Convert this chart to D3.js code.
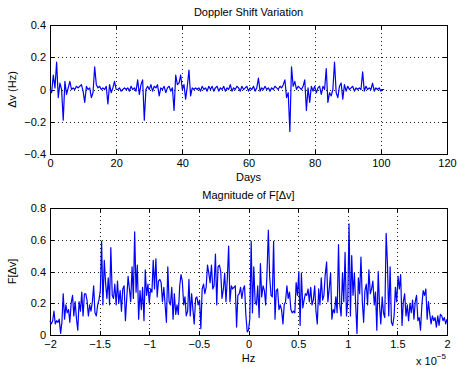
<!DOCTYPE html>
<html>
<head>
<meta charset="utf-8">
<script src="https://cdn.jsdelivr.net/npm/d3@7"></script>
<style>
  body { margin: 0; background: #fff; }
  svg { display: block; font-family: 'Liberation Sans', Arial, sans-serif; }
</style>
</head>
<body>
<div id="chart"></div>
<script>
// Doppler shift (Hz) sampled every half day
const days = [
  0, 0.5, 1, 1.5, 2, 2.5, 3, 3.5, 4, 4.5, 5, 5.5, 6, 6.5, 7, 7.5, 8, 8.5, 9, 9.5,
  10, 10.5, 11, 11.5, 12, 12.5, 13, 13.5, 14, 14.5, 15, 15.5, 16, 16.5, 17, 17.5, 18, 18.5, 19, 19.5,
  20, 20.5, 21, 21.5, 22, 22.5, 23, 23.5, 24, 24.5, 25, 25.5, 26, 26.5, 27, 27.5, 28, 28.5, 29, 29.5,
  30, 30.5, 31, 31.5, 32, 32.5, 33, 33.5, 34, 34.5, 35, 35.5, 36, 36.5, 37, 37.5, 38, 38.5, 39, 39.5,
  40, 40.5, 41, 41.5, 42, 42.5, 43, 43.5, 44, 44.5, 45, 45.5, 46, 46.5, 47, 47.5, 48, 48.5, 49, 49.5,
  50, 50.5, 51, 51.5, 52, 52.5, 53, 53.5, 54, 54.5, 55, 55.5, 56, 56.5, 57, 57.5, 58, 58.5, 59, 59.5,
  60, 60.5, 61, 61.5, 62, 62.5, 63, 63.5, 64, 64.5, 65, 65.5, 66, 66.5, 67, 67.5, 68, 68.5, 69, 69.5,
  70, 70.5, 71, 71.5, 72, 72.5, 73, 73.5, 74, 74.5, 75, 75.5, 76, 76.5, 77, 77.5, 78, 78.5, 79, 79.5,
  80, 80.5, 81, 81.5, 82, 82.5, 83, 83.5, 84, 84.5, 85, 85.5, 86, 86.5, 87, 87.5, 88, 88.5, 89, 89.5,
  90, 90.5, 91, 91.5, 92, 92.5, 93, 93.5, 94, 94.5, 95, 95.5, 96, 96.5, 97, 97.5, 98, 98.5, 99, 99.5,
  100, 100.5, 101
];
const dopplerShift = [
  0.00, -0.02, 0.09, 0.01, 0.17, -0.05, 0.04, 0.00, -0.19, 0.05,
  -0.03, 0.01, 0.05, 0.00, 0.01, 0.00, 0.02, 0.01, 0.02, 0.03,
  -0.01, -0.08, 0.02, 0.00, 0.01, -0.05, -0.02, 0.14, 0.03, 0.01,
  0.02, 0.00, 0.01, 0.00, 0.02, -0.09, 0.03, -0.02, 0.01, 0.05,
  0.00, 0.00, 0.01, -0.01, 0.00, 0.01, 0.00, 0.01, -0.01, 0.02,
  0.00, 0.01, -0.01, 0.06, -0.03, 0.03, 0.06, -0.19, 0.00, 0.02,
  0.00, 0.03, -0.01, 0.02, 0.01, 0.03, -0.04, 0.01, 0.00, 0.02,
  -0.02, 0.01, 0.02, -0.01, 0.01, -0.13, 0.09, 0.03, 0.04, 0.09,
  0.00, 0.03, -0.06, 0.02, 0.12, -0.04, 0.01, 0.00, 0.01, 0.00,
  0.01, -0.01, 0.02, 0.00, 0.01, -0.01, 0.02, 0.00, 0.02, -0.01,
  0.01, 0.02, -0.01, 0.01, 0.00, 0.02, -0.01, 0.01, 0.00, 0.03,
  -0.01, 0.01, 0.00, 0.02, 0.01, -0.01, 0.02, 0.00, 0.01, 0.02,
  -0.01, 0.01, 0.00, 0.02, -0.01, 0.01, 0.07, -0.01, 0.01, 0.00,
  0.02, 0.00, 0.01, -0.01, 0.01, 0.00, 0.02, 0.01, 0.00, 0.02,
  0.01, 0.03, 0.06, -0.05, -0.02, -0.26, 0.14, 0.02, 0.05, 0.00,
  0.02, 0.01, 0.00, 0.02, 0.06, -0.13, 0.01, -0.08, 0.02, -0.01,
  0.02, -0.02, 0.01, 0.02, -0.03, 0.02, 0.00, 0.13, -0.08, -0.02,
  -0.04, 0.00, 0.17, -0.02, -0.05, 0.02, 0.04, -0.06, 0.03, -0.01,
  0.02, 0.00, 0.01, 0.02, -0.01, 0.01, 0.00, 0.01, 0.00, 0.11,
  -0.01, 0.02, 0.00, 0.01, 0.00, 0.04, -0.01, 0.01, 0.00, 0.01,
  -0.01, 0.00, 0.00
];

// spectrum, frequency in units of 1e-5 Hz
const freqE5 = [
  -2, -1.987, -1.973, -1.96, -1.947, -1.933, -1.92, -1.907, -1.893, -1.88,
  -1.867, -1.853, -1.84, -1.827, -1.813, -1.8, -1.787, -1.773, -1.76, -1.747,
  -1.733, -1.72, -1.707, -1.693, -1.68, -1.667, -1.653, -1.64, -1.627, -1.613,
  -1.6, -1.587, -1.573, -1.56, -1.547, -1.533, -1.52, -1.507, -1.493, -1.48,
  -1.467, -1.453, -1.44, -1.427, -1.413, -1.4, -1.387, -1.373, -1.36, -1.347,
  -1.333, -1.32, -1.307, -1.293, -1.28, -1.267, -1.253, -1.24, -1.227, -1.213,
  -1.2, -1.187, -1.173, -1.16, -1.147, -1.133, -1.12, -1.107, -1.093, -1.08,
  -1.067, -1.053, -1.04, -1.027, -1.013,
  -1, -0.987, -0.973, -0.96, -0.947, -0.933, -0.92, -0.907, -0.893, -0.88,
  -0.867, -0.853, -0.84, -0.827, -0.813, -0.8, -0.787, -0.773, -0.76, -0.747,
  -0.733, -0.72, -0.707, -0.693, -0.68, -0.667, -0.653, -0.64, -0.627, -0.613,
  -0.6, -0.587, -0.573, -0.56, -0.547, -0.533, -0.52, -0.507, -0.493, -0.48,
  -0.467, -0.453, -0.44, -0.427, -0.413, -0.4, -0.387, -0.373, -0.36, -0.347,
  -0.333, -0.32, -0.307, -0.293, -0.28, -0.267, -0.253, -0.24, -0.227, -0.213,
  -0.2, -0.187, -0.173, -0.16, -0.147, -0.133, -0.12, -0.107, -0.093, -0.08,
  -0.067, -0.053, -0.04, -0.027, -0.013,
  0, 0.013, 0.027, 0.04, 0.053, 0.067, 0.08, 0.093, 0.107, 0.12,
  0.133, 0.147, 0.16, 0.173, 0.187, 0.2, 0.213, 0.227, 0.24, 0.253,
  0.267, 0.28, 0.293, 0.307, 0.32, 0.333, 0.347, 0.36, 0.373, 0.387,
  0.4, 0.413, 0.427, 0.44, 0.453, 0.467, 0.48, 0.493, 0.507, 0.52,
  0.533, 0.547, 0.56, 0.573, 0.587, 0.6, 0.613, 0.627, 0.64, 0.653,
  0.667, 0.68, 0.693, 0.707, 0.72, 0.733, 0.747, 0.76, 0.773, 0.787,
  0.8, 0.813, 0.827, 0.84, 0.853, 0.867, 0.88, 0.893, 0.907, 0.92,
  0.933, 0.947, 0.96, 0.973, 0.987,
  1, 1.013, 1.027, 1.04, 1.053, 1.067, 1.08, 1.093, 1.107, 1.12,
  1.133, 1.147, 1.16, 1.173, 1.187, 1.2, 1.213, 1.227, 1.24, 1.253,
  1.267, 1.28, 1.293, 1.307, 1.32, 1.333, 1.347, 1.36, 1.373, 1.387,
  1.4, 1.413, 1.427, 1.44, 1.453, 1.467, 1.48, 1.493, 1.507, 1.52,
  1.533, 1.547, 1.56, 1.573, 1.587, 1.6, 1.613, 1.627, 1.64, 1.653,
  1.667, 1.68, 1.693, 1.707, 1.72, 1.733, 1.747, 1.76, 1.773, 1.787,
  1.8, 1.813, 1.827, 1.84, 1.853, 1.867, 1.88, 1.893, 1.907, 1.92,
  1.933, 1.947, 1.96, 1.973, 1.987, 2
];
const magnitude = [
  0.09, 0.07, 0.09, 0.15, 0.07, 0.09, 0.08, 0.10, 0.01, 0.08,
  0.26, 0.10, 0.19, 0.14, 0.16, 0.08, 0.20, 0.25, 0.12, 0.21,
  0.10, 0.03, 0.21, 0.15, 0.27, 0.12, 0.26, 0.26, 0.22, 0.12,
  0.19, 0.15, 0.21, 0.31, 0.14, 0.12, 0.19, 0.22, 0.28, 0.59,
  0.19, 0.47, 0.33, 0.23, 0.36, 0.19, 0.55, 0.25, 0.23, 0.32,
  0.19, 0.34, 0.20, 0.28, 0.15, 0.29, 0.31, 0.09, 0.23, 0.37,
  0.29, 0.21, 0.43, 0.23, 0.65, 0.27, 0.44, 0.10, 0.28, 0.16,
  0.30, 0.09, 0.41, 0.25, 0.32,
  0.20, 0.29, 0.27, 0.47, 0.29, 0.48, 0.24, 0.34, 0.35, 0.33,
  0.21, 0.30, 0.19, 0.08, 0.43, 0.21, 0.19, 0.30, 0.10, 0.26,
  0.13, 0.19, 0.13, 0.31, 0.38, 0.34, 0.19, 0.24, 0.12, 0.15,
  0.35, 0.12, 0.26, 0.16, 0.07, 0.23, 0.24, 0.19, 0.22, 0.04,
  0.29, 0.32, 0.26, 0.30, 0.44, 0.39, 0.33, 0.44, 0.29, 0.31,
  0.51, 0.19, 0.43, 0.44, 0.40, 0.23, 0.29, 0.39, 0.21, 0.36,
  0.56, 0.21, 0.31, 0.29, 0.30, 0.31, 0.05, 0.25, 0.26, 0.30,
  0.23, 0.29, 0.31, 0.13, 0.02,
  0.03, 0.10, 0.59, 0.14, 0.43, 0.21, 0.19, 0.31, 0.11, 0.45,
  0.24, 0.31, 0.28, 0.19, 0.40, 0.66, 0.37, 0.25, 0.24, 0.59,
  0.10, 0.28, 0.29, 0.16, 0.19, 0.16, 0.07, 0.19, 0.21, 0.31,
  0.23, 0.27, 0.16, 0.14, 0.15, 0.14, 0.33, 0.25, 0.40, 0.06,
  0.39, 0.17, 0.22, 0.26, 0.25, 0.29, 0.21, 0.30, 0.19, 0.22,
  0.31, 0.15, 0.07, 0.29, 0.19, 0.36, 0.22, 0.25, 0.38, 0.46,
  0.21, 0.29, 0.39, 0.10, 0.16, 0.14, 0.24, 0.14, 0.57, 0.19,
  0.12, 0.39, 0.21, 0.52, 0.12,
  0.21, 0.70, 0.12, 0.50, 0.25, 0.39, 0.19, 0.01, 0.36, 0.26,
  0.49, 0.21, 0.08, 0.28, 0.32, 0.19, 0.41, 0.26, 0.29, 0.34,
  0.19, 0.27, 0.03, 0.40, 0.19, 0.07, 0.24, 0.14, 0.11, 0.64,
  0.45, 0.12, 0.43, 0.08, 0.06, 0.12, 0.30, 0.21, 0.37, 0.29,
  0.38, 0.06, 0.21, 0.26, 0.12, 0.19, 0.09, 0.20, 0.14, 0.22,
  0.10, 0.21, 0.25, 0.09, 0.11, 0.03, 0.19, 0.28, 0.25, 0.29,
  0.10, 0.21, 0.13, 0.07, 0.12, 0.09, 0.11, 0.05, 0.12, 0.06,
  0.13, 0.12, 0.09, 0.11, 0.07, 0.10
];

const dayTicks = [0, 20, 40, 60, 80, 100, 120];
const shiftTicks = [-0.4, -0.2, 0, 0.2, 0.4];
const freqTicks = [-2, -1.5, -1, -0.5, 0, 0.5, 1, 1.5, 2];
const magTicks = [0, 0.2, 0.4, 0.6, 0.8];

const width = 457;
const height = 367;
const fmt = d3.format('');

const svg = d3.select('#chart')
  .append('svg')
  .attr('width', width)
  .attr('height', height);

svg.append('rect')
  .attr('width', width)
  .attr('height', height)
  .attr('fill', '#fff');

function panel(p) {
  const x = d3.scaleLinear().domain(p.xDomain).range([ p.left, p.right ]);
  const y = d3.scaleLinear().domain(p.yDomain).range([ p.bottom, p.top ]);
  const g = svg.append('g');

  // dotted grid at the inner ticks
  g.append('g')
    .attr('stroke', '#222')
    .attr('stroke-dasharray', '1,3')
    .selectAll('line')
    .data(p.xTicks.slice(1, -1))
    .join('line')
    .attr('x1', d => Math.round(x(d)) + 0.5)
    .attr('x2', d => Math.round(x(d)) + 0.5)
    .attr('y1', p.top)
    .attr('y2', p.bottom);

  g.append('g')
    .attr('stroke', '#222')
    .attr('stroke-dasharray', '1,3')
    .selectAll('line')
    .data(p.yTicks.slice(1, -1))
    .join('line')
    .attr('x1', p.left)
    .attr('x2', p.right)
    .attr('y1', d => Math.round(y(d)) + 0.5)
    .attr('y2', d => Math.round(y(d)) + 0.5);

  const style = sel => {
    sel.select('.domain').remove();
    sel.attr('font-size', 11).attr('font-family', null);
    sel.selectAll('line').attr('shape-rendering', 'crispEdges');
  };

  g.append('g')
    .attr('transform', `translate(0,${ p.bottom })`)
    .call(d3.axisBottom(x).tickValues(p.xTicks).tickSize(-4).tickPadding(5).tickFormat(fmt))
    .call(style);
  g.append('g')
    .attr('transform', `translate(0,${ p.top })`)
    .call(d3.axisTop(x).tickValues(p.xTicks).tickSize(-4).tickFormat(''))
    .call(style);
  g.append('g')
    .attr('transform', `translate(${ p.left },0)`)
    .call(d3.axisLeft(y).tickValues(p.yTicks).tickSize(-4).tickPadding(4).tickFormat(fmt))
    .call(style);
  g.append('g')
    .attr('transform', `translate(${ p.right },0)`)
    .call(d3.axisRight(y).tickValues(p.yTicks).tickSize(-4).tickFormat(''))
    .call(style);

  g.append('rect')
    .attr('x', p.left + 0.5)
    .attr('y', p.top + 0.5)
    .attr('width', p.right - p.left)
    .attr('height', p.bottom - p.top)
    .attr('fill', 'none')
    .attr('stroke', '#000')
    .attr('shape-rendering', 'crispEdges');

  const line = d3.line()
    .x((d, i) => x(p.xs[i]))
    .y(d => y(d));

  g.append('path')
    .datum(p.ys)
    .attr('fill', 'none')
    .attr('stroke', '#0000ff')
    .attr('stroke-width', 1.2)
    .attr('stroke-linejoin', 'round')
    .attr('d', line);

  const midX = (p.left + p.right) / 2;
  g.append('text')
    .attr('x', midX)
    .attr('y', p.top - 9)
    .attr('text-anchor', 'middle')
    .attr('font-size', 11)
    .text(p.title);
  g.append('text')
    .attr('x', midX)
    .attr('y', p.bottom + 27)
    .attr('text-anchor', 'middle')
    .attr('font-size', 11)
    .text(p.xLabel);
  g.append('text')
    .attr('transform', `translate(16,${ (p.top + p.bottom) / 2 }) rotate(-90)`)
    .attr('text-anchor', 'middle')
    .attr('font-size', 11)
    .text(p.yLabel);
  return g;
}

panel({
  left: 50, right: 447, top: 25, bottom: 154,
  xDomain: [ 0, 120 ], yDomain: [ -0.4, 0.4 ],
  xTicks: dayTicks, yTicks: shiftTicks,
  xs: days, ys: dopplerShift,
  title: 'Doppler Shift Variation', xLabel: 'Days', yLabel: 'Δv (Hz)'
});

const spec = panel({
  left: 50, right: 447, top: 208, bottom: 335,
  xDomain: [ -2, 2 ], yDomain: [ 0, 0.8 ],
  xTicks: freqTicks, yTicks: magTicks,
  xs: freqE5, ys: magnitude,
  title: 'Magnitude of F[Δv]', xLabel: 'Hz', yLabel: 'F[Δv]'
});

// exponent note under the frequency axis
const expo = spec.append('text')
  .attr('x', 416)
  .attr('y', 365)
  .attr('font-size', 11)
  .text('x 10');
expo.append('tspan')
  .attr('dy', -6)
  .attr('font-size', 8)
  .text('−5');
</script>
</body>
</html>
